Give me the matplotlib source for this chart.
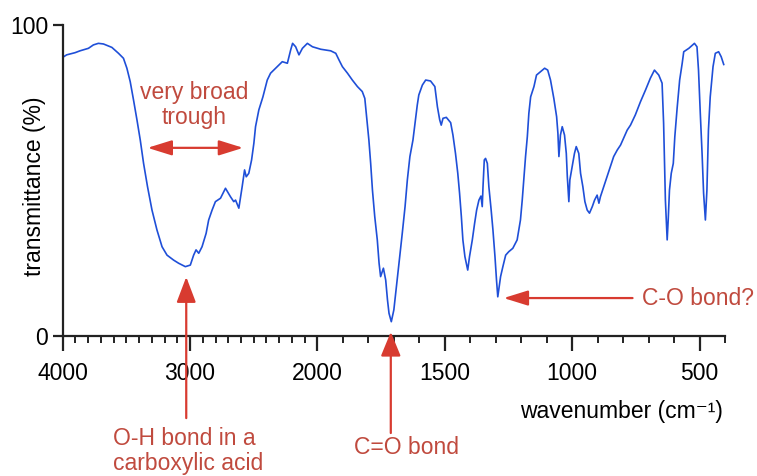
import numpy as np
import matplotlib
matplotlib.use("Agg")
import matplotlib.pyplot as plt
from matplotlib.ticker import FixedLocator, NullFormatter

plt.rcParams['font.family'] = ['Liberation Sans', 'DejaVu Sans']

# ---- data ----
wavenumber = [4000, 3969, 3903, 3864, 3798, 3759, 3720, 3680, 3614, 3562,
              3523, 3496, 3470, 3444, 3417, 3391, 3365, 3334, 3299, 3260,
              3220, 3181, 3129, 3090, 3037, 2998, 2972, 2953, 2932, 2906,
              2874, 2854, 2827, 2801, 2761, 2722, 2683, 2657, 2643, 2617,
              2591, 2572, 2559, 2539, 2517, 2499, 2486, 2460, 2428, 2394,
              2368, 2328, 2276, 2236, 2210, 2195, 2171, 2145, 2118, 2079,
              2039, 1987, 1948, 1928, 1915, 1902, 1882, 1863, 1843, 1824,
              1814, 1807, 1798, 1791, 1784, 1775, 1765, 1758, 1752, 1741,
              1732, 1725, 1719, 1710, 1700, 1693, 1686, 1677, 1667, 1656,
              1647, 1637, 1625, 1617, 1608, 1602, 1588, 1575, 1556, 1539,
              1529, 1520, 1514, 1507, 1494, 1477, 1468, 1458, 1449, 1442,
              1435, 1429, 1421, 1410, 1403, 1392, 1383, 1375, 1366, 1358,
              1353, 1350, 1345, 1340, 1333, 1327, 1318, 1311, 1303, 1297,
              1292, 1281, 1272, 1261, 1249, 1233, 1216, 1203, 1196, 1190,
              1183, 1176, 1170, 1163, 1150, 1140, 1124, 1108, 1096, 1085,
              1072, 1061, 1056, 1052, 1046, 1039, 1030, 1023, 1019, 1013,
              1009, 1000, 991, 984, 974, 967, 958, 950, 941, 932,
              921, 912, 902, 895, 889, 876, 863, 850, 837, 823,
              810, 798, 784, 771, 752, 732, 712, 693, 677, 660,
              647, 641, 634, 627, 623, 618, 611, 603, 597, 588,
              578, 568, 562, 542, 520, 510, 504, 497, 490, 484,
              477, 471, 465, 458, 447, 438, 425, 415, 405]

transmittance = [89.6, 90.4, 91.1, 91.7, 92.5, 93.6, 94.1, 93.9, 92.8, 90.9,
                 89.3, 86.1, 81.8, 75.9, 69.5, 63.0, 55.5, 48.0, 40.5, 34.1,
                 28.7, 26.0, 24.4, 23.4, 22.3, 22.8, 26.0, 27.7, 26.6, 28.7,
                 33.0, 37.3, 40.5, 43.2, 44.3, 47.5, 44.8, 43.2, 43.7, 41.1,
                 48.0, 53.4, 51.2, 52.3, 56.6, 62.0, 67.3, 72.7, 76.9, 82.3,
                 84.5, 86.1, 88.2, 87.7, 92.0, 94.1, 93.0, 90.4, 92.5, 94.1,
                 93.0, 92.2, 91.7, 90.9, 88.7, 86.6, 84.5, 82.3, 80.2, 78.6,
                 76.4, 70.5, 63.0, 55.5, 46.9, 38.4, 30.9, 23.4, 19.1, 21.8,
                 18.0, 11.6, 7.3, 4.6, 8.4, 13.7, 19.1, 25.5, 33.0, 41.6,
                 50.2, 57.7, 63.0, 68.4, 74.3, 77.5, 80.7, 82.3, 82.0, 80.2,
                 73.7, 69.5, 67.8, 70.0, 70.3, 68.6, 64.6, 58.7, 52.3, 45.9,
                 38.4, 30.9, 25.5, 21.2, 25.5, 30.9, 36.2, 40.5, 43.7, 45.0,
                 41.6, 48.0, 56.6, 57.1, 55.5, 48.0, 40.5, 34.1, 25.5, 18.0,
                 12.6, 19.1, 22.3, 26.0, 27.1, 28.2, 30.9, 37.3, 43.7, 50.2,
                 57.7, 64.1, 71.6, 76.9, 80.2, 83.9, 85.0, 86.1, 85.5, 82.3,
                 76.4, 70.5, 65.2, 57.7, 64.6, 67.3, 64.6, 58.7, 51.2, 43.2,
                 50.2, 54.4, 58.7, 60.9, 58.7, 52.3, 48.0, 43.2, 40.5, 39.5,
                 41.6, 43.7, 45.3, 42.7, 44.8, 48.0, 51.2, 54.4, 57.7, 59.8,
                 61.4, 63.6, 66.2, 67.8, 71.1, 75.3, 79.1, 82.9, 85.5, 83.9,
                 81.3, 68.4, 43.7, 30.9, 37.3, 46.9, 52.3, 55.5, 64.1, 73.2,
                 82.3, 87.7, 91.4, 92.5, 94.1, 93.0, 85.5, 71.6, 58.7, 45.9,
                 37.3, 46.9, 66.2, 76.9, 86.6, 90.9, 91.4, 89.8, 87.3]

major_ticks = [4000, 3000, 2000, 1500, 1000, 500]
minor_ticks = [w for w in range(3900, 399, -100) if w not in major_ticks]
y_ticks = [0, 100]

# annotations: (label, text position, arrow tail, arrow tip)
oh_label = "O-H bond in a\ncarboxylic acid"
co_label = "C=O bond"
c_o_label = "C-O bond?"
trough_label = "very broad\ntrough"

LINE_BLUE = '#1f4fd8'
ARROW_RED = '#d83b30'
TEXT_RED = '#c04a3e'
FS = 16.5

# ---- broken-scale axis: 4000-2000 at half the scale of 2000-400 ----
def fwd(x):
    x = np.asarray(x, float)
    return np.where(x <= 2000, x, 2000 + (x - 2000) / 2.0)

def inv(y):
    y = np.asarray(y, float)
    return np.where(y <= 2000, y, 2000 + (y - 2000) * 2.0)

fig = plt.figure(figsize=(7.57, 4.76), dpi=100)
W, H = 757, 476
x0, x1, y0, y1 = 62.7, 725, 25, 336
ax = fig.add_axes([x0 / W, (H - y1) / H, (x1 - x0) / W, (y1 - y0) / H])
ax.set_xscale('function', functions=(fwd, inv))
ax.plot(wavenumber, transmittance, color=LINE_BLUE, lw=1.2)
ax.set_xlim(4000, 400)
ax.set_ylim(0, 100)

for s in ['top', 'right']:
    ax.spines[s].set_visible(False)
for s in ['left', 'bottom']:
    ax.spines[s].set_linewidth(1.6)
    ax.spines[s].set_color('#222222')

ax.xaxis.set_major_locator(FixedLocator(major_ticks))
ax.xaxis.set_minor_locator(FixedLocator(minor_ticks))
ax.xaxis.set_minor_formatter(NullFormatter())
ax.set_xticklabels([str(t) for t in major_ticks])
ax.set_yticks(y_ticks)
ax.set_yticklabels([str(t) for t in y_ticks])
ax.tick_params(axis='x', which='major', direction='out', length=11, width=1.6,
               color='#222222', labelsize=FS, pad=8)
ax.tick_params(axis='x', which='minor', direction='out', length=5, width=1.4,
               color='#222222')
ax.tick_params(axis='y', which='major', direction='out', length=7.5, width=1.6,
               color='#222222', labelsize=FS, pad=3)

ax.set_xlabel("wavenumber (cm\u207b\u00b9)", fontsize=FS, ha='right', va='center')
ax.xaxis.set_label_coords(0.997, -0.244)
ax.set_ylabel("transmittance (%)", fontsize=FS, va='center')
ax.yaxis.set_label_coords(-0.043, 0.482)

def arrow(tail, tip, style):
    ax.annotate('', xy=tip, xytext=tail, xycoords='data', textcoords='data',
                annotation_clip=False, zorder=6,
                arrowprops=dict(arrowstyle=style, color=ARROW_RED, lw=1.6,
                                shrinkA=0, shrinkB=0, mutation_scale=FS))

# very broad trough
arrow((3334, 60.5), (2583, 60.5), '<|-|>,head_length=0.9,head_width=0.28')
ax.text(2966, 74.3, trough_label, color=TEXT_RED, fontsize=FS, ha='center',
        va='center', linespacing=1.1, clip_on=False)
# O-H
arrow((3030, -26.4), (3030, 19.0), '-|>,head_length=0.95,head_width=0.36')
ax.text(3604, -37.0, oh_label, color=TEXT_RED, fontsize=FS, ha='left',
        va='center', linespacing=1.1, clip_on=False)
# C=O
arrow((1712, -31.2), (1712, 1.3), '-|>,head_length=0.9,head_width=0.37')
ax.text(1650, -35.7, co_label, color=TEXT_RED, fontsize=FS, ha='center',
        va='center', clip_on=False)
# C-O
arrow((763, 12.2), (1269, 12.2), '-|>,head_length=0.9,head_width=0.28')
ax.text(724, 12.2, c_o_label, color=TEXT_RED, fontsize=FS, ha='left',
        va='center', clip_on=False)

fig.savefig('out.png', dpi=100)
